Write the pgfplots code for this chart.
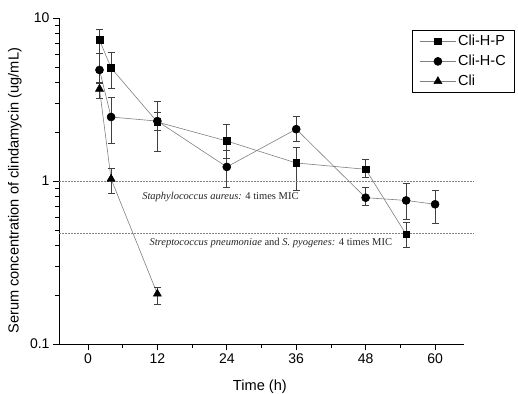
\documentclass[border=0pt]{standalone}
\usepackage{pgfplots}
\pgfplotsset{compat=1.18}
\usepackage{pgfplotstable}
\usepackage{fontspec}
\setmainfont{Liberation Sans}
\newfontfamily\timesfont{Liberation Serif}

\pgfplotstableread{
x y ep em
2 7.33 1.23 1.23
4 4.94 1.25 1.22
12 2.30 0.80 0.77
24 1.76 0.48 0.38
36 1.29 0.33 0.41
48 1.18 0.17 0.12
55 0.47 0.09 0.08
}\hp
\pgfplotstableread{
x y ep em
2 4.80 1.30 0.75
4 2.47 0.81 0.76
12 2.33 0.32 0.27
24 1.22 0.33 0.30
36 2.08 0.42 0.34
48 0.79 0.12 0.08
55 0.76 0.21 0.18
60 0.72 0.16 0.17
}\hc
\pgfplotstableread{
x y ep em
2 3.67 0.32 0.44
4 1.03 0.17 0.19
12 0.203 0.021 0.027
}\cli

\begin{document}
\begin{tikzpicture}
\begin{axis}[
  scale only axis,
  width=405pt, height=326pt,
  at={(0pt,0pt)}, anchor=south west,
  ymode=log,
  xmin=-5, xmax=65,
  ymin=0.1, ymax=10,
  axis x line*=bottom,
  axis y line*=left,
  axis line style={black, line width=0.8pt},
  tick align=outside,
  major tick length=6pt,
  minor tick length=4pt,
  tick style={black, line width=0.8pt},
  xtick={0,12,24,36,48,60},
  minor xtick={6,18,30,42,54},
  ytick={0.1,1,10},
  yticklabels={0.1,1,10},
  /pgf/number format/assume math mode=true,
  tick label style={font=\fontsize{14}{16}\selectfont},
  xlabel={Time (h)},
  ylabel={Serum concentration of clindamycin (ug/mL)},
  label style={font=\fontsize{14.6}{17}\selectfont},
  xlabel style={at={(axis description cs:0.496,0)}, anchor=center, yshift=-43pt},
  ylabel style={at={(axis description cs:-0.109,0.47)}, anchor=center},
  clip=false,
  legend style={
    at={(rel axis cs:1.126,0.963)}, anchor=north east,
    draw=black, line width=0.6pt,
    font=\fontsize{14.5}{16}\selectfont,
    row sep=4pt,
    inner xsep=7pt, inner ysep=3pt,
    /tikz/every even column/.append style={column sep=2pt},
  },
  legend cell align=left,
  legend image code/.code={
    \draw[mark repeat=2,mark phase=2,#1] plot coordinates {(0pt,0pt) (18pt,0pt) (36pt,0pt)};
  },
  error bars/error bar style={black!75, line width=0.6pt},
  error bars/error mark options={rotate=90, mark size=3.5pt, black!75, line width=0.6pt},
]
\addplot[gray, line width=0.6pt, mark=square*, mark size=3.3pt,
  mark options={black, fill=black},
  error bars/.cd, y dir=both, y explicit]
  table[x=x, y=y, y error plus=ep, y error minus=em] {\hp};
\addlegendentry{Cli-H-P}
\addplot[gray, line width=0.6pt, mark=*, mark size=4pt,
  mark options={black, fill=black},
  error bars/.cd, y dir=both, y explicit]
  table[x=x, y=y, y error plus=ep, y error minus=em] {\hc};
\addlegendentry{Cli-H-C}
\addplot[gray, line width=0.6pt, mark=triangle*, mark size=4.6pt,
  mark options={black, fill=black},
  error bars/.cd, y dir=both, y explicit]
  table[x=x, y=y, y error plus=ep, y error minus=em] {\cli};
\addlegendentry{Cli}

\addplot[gray, line width=0.6pt, dash pattern=on 1.5pt off 1.5pt, forget plot]
  coordinates {(-5,1) (66.6,1)};
\addplot[gray, line width=0.6pt, dash pattern=on 1.5pt off 1.5pt, forget plot]
  coordinates {(-5,0.48) (66.6,0.48)};

\node[font=\timesfont\fontsize{10.5}{12}\selectfont, anchor=center, text=black!85]
  at (axis cs:22.9,0.80) {\textit{Staphylococcus aureus:} 4 times MIC};
\node[font=\timesfont\fontsize{10.5}{12}\selectfont, anchor=center, text=black!85]
  at (axis cs:31.6,0.417) {\textit{Streptococcus pneumoniae} and \textit{S. pyogenes:} 4 times MIC};
\end{axis}
\pgfresetboundingbox
\path (-59pt,-49pt) rectangle (459pt,344pt);
\end{tikzpicture}
\end{document}
